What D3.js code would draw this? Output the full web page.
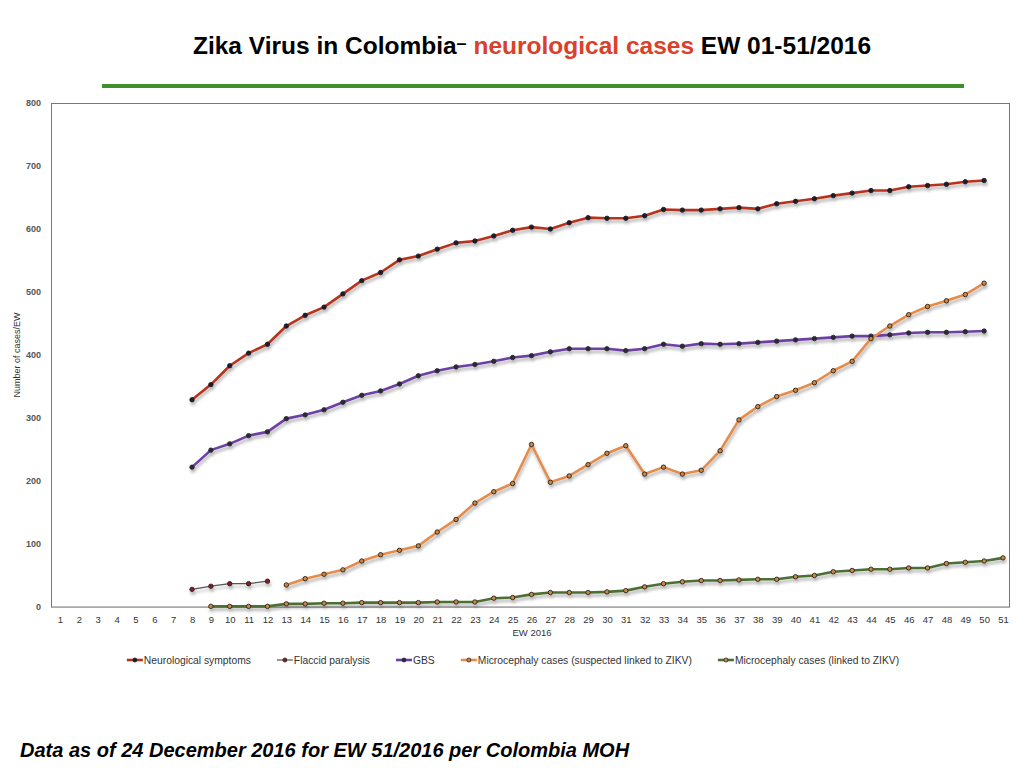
<!DOCTYPE html>
<html>
<head>
<meta charset="utf-8">
<script src="https://cdn.jsdelivr.net/npm/d3@7"></script>
<style>
  body { margin: 0; background: #fff; }
  svg { display: block; }
  text { font-family: "Liberation Sans Narrow", "Liberation Sans", Arial, sans-serif; }
</style>
</head>
<body>
<svg id="chart" width="1024" height="768"></svg>
<script>
// epidemiological weeks shown on the axis
const weeks = d3.range(1, 52);
const yTicks = [0, 100, 200, 300, 400, 500, 600, 700, 800];

// series values (first week given separately)
const neuroStart = 8;
const neuroValues = [329, 353, 383, 403, 417, 446, 463, 476, 497, 518, 531, 551, 557, 568, 578, 581,
  589, 598, 603, 600, 610, 618, 617, 617, 621, 631, 630, 630, 632, 634, 632, 640, 644, 648, 653,
  657, 661, 661, 667, 669, 671, 675, 677];

const flaccidStart = 8;
const flaccidValues = [28, 33, 37, 37, 41];

const gbsStart = 8;
const gbsValues = [222, 249, 259, 272, 278, 299, 305, 313, 325, 336, 343, 354, 367, 375, 381, 385,
  390, 396, 399, 405, 410, 410, 410, 407, 410, 417, 414, 418, 417, 418, 420, 422, 424, 426, 428,
  430, 430, 432, 435, 436, 436, 437, 438];

const suspStart = 13;
const suspValues = [35, 45, 52, 59, 73, 83, 90, 97, 119, 139, 165, 183, 196, 258, 198, 208, 226,
  244, 256, 211, 222, 211, 217, 248, 297, 318, 334, 344, 356, 375, 390, 426, 446, 464, 477, 486,
  496, 514];

const confStart = 9;
const confValues = [1, 1, 1, 1, 5, 5, 6, 6, 7, 7, 7, 7, 8, 8, 8, 14, 15, 20, 23, 23, 23, 24, 26,
  32, 37, 40, 42, 42, 43, 44, 44, 48, 50, 56, 58, 60, 60, 62, 62, 69, 71, 73, 78];

const toPoints = (start, values) => values.map((v, i) => ({ week: start + i, value: v }));

const series = [
  { name: 'Neurological symptoms', data: toPoints(neuroStart, neuroValues),
    color: '#b8321f', width: 2.6, dot: '#1c1c2a', dotStroke: '#1c1c2a' },
  { name: 'Flaccid paralysis', data: toPoints(flaccidStart, flaccidValues),
    color: '#555', width: 1.2, dot: '#7a2030', dotStroke: '#3a1a1a' },
  { name: 'GBS', data: toPoints(gbsStart, gbsValues),
    color: '#6e3fa3', width: 2.6, dot: '#2a2a33', dotStroke: '#2a2a33' },
  { name: 'Microcephaly cases (suspected linked to ZIKV)', data: toPoints(suspStart, suspValues),
    color: '#e68c4c', width: 2.6, dot: '#c98a4a', dotStroke: '#2b2015' },
  { name: 'Microcephaly cases (linked to ZIKV)', data: toPoints(confStart, confValues),
    color: '#4d6e34', width: 2.6, dot: '#c98a4a', dotStroke: '#2b2015' }
];

const svg = d3.select('#chart');

const defs = svg.append('defs');
const shadow = defs.append('filter')
  .attr('id', 'shadow')
  .attr('x', '-10%').attr('y', '-10%')
  .attr('width', '120%').attr('height', '130%');
shadow.append('feDropShadow')
  .attr('dx', 1).attr('dy', 3)
  .attr('stdDeviation', 1.6)
  .attr('flood-color', '#000')
  .attr('flood-opacity', 0.3);

// title
const title = svg.append('text')
  .attr('x', 532).attr('y', 54)
  .attr('text-anchor', 'middle')
  .style('font-size', '24.5px')
  .style('font-weight', 'bold');
title.append('tspan').text('Zika Virus in Colombia');
title.append('tspan').text('\u2013').attr('dy', -5).style('font-size', '18px');
title.append('tspan').text(' neurological cases').attr('dy', 5).attr('fill', '#d9412a');
title.append('tspan').text(' EW 01-51/2016').attr('fill', '#000');

svg.append('line')
  .attr('x1', 102).attr('x2', 964)
  .attr('y1', 86).attr('y2', 86)
  .attr('stroke', '#3f8f2d')
  .attr('stroke-width', 4);

// scales
const x = d3.scaleLinear().domain([1, 51]).range([60, 1003]);
const y = d3.scaleLinear().domain([0, 800]).range([607, 103]);

// plot frame
svg.append('rect')
  .attr('x', 51.5).attr('y', 103.5)
  .attr('width', 958).attr('height', 503.5)
  .attr('fill', 'none')
  .attr('stroke', '#777')
  .attr('stroke-width', 1);

svg.append('line')
  .attr('x1', 51).attr('x2', 1010)
  .attr('y1', y(0) + 0.5).attr('y2', y(0) + 0.5)
  .attr('stroke', '#aaa');

// y axis
const yAxis = svg.append('g')
  .attr('transform', 'translate(51,0)')
  .call(d3.axisLeft(y).tickValues(yTicks).tickSize(0).tickPadding(10));
yAxis.select('.domain').remove();
yAxis.selectAll('text')
  .style('font-size', '9px')
  .style('font-weight', 'bold')
  .attr('fill', '#555');

svg.append('text')
  .attr('transform', 'translate(20,355) rotate(-90)')
  .attr('text-anchor', 'middle')
  .style('font-size', '9px')
  .attr('fill', '#333')
  .text('Number of cases/EW');

// x axis
const xAxis = svg.append('g')
  .attr('transform', `translate(0,${y(0)})`)
  .call(d3.axisBottom(x).tickValues(weeks).tickFormat(d3.format('d')).tickSize(0).tickPadding(9));
xAxis.select('.domain').remove();
xAxis.selectAll('text')
  .style('font-size', '9.5px')
  .attr('fill', '#333');

svg.append('text')
  .attr('x', 532).attr('y', 636)
  .attr('text-anchor', 'middle')
  .style('font-size', '9.5px')
  .attr('fill', '#333')
  .text('EW 2016');

// lines
const line = d3.line()
  .x(d => x(d.week))
  .y(d => y(d.value));

const plot = svg.append('g').attr('filter', 'url(#shadow)');

series.forEach(s => {
  plot.append('path')
    .datum(s.data)
    .attr('d', line)
    .attr('fill', 'none')
    .attr('stroke', s.color)
    .attr('stroke-width', s.width)
    .attr('stroke-linejoin', 'round');
});

series.forEach(s => {
  plot.append('g')
    .selectAll('circle')
    .data(s.data)
    .enter().append('circle')
    .attr('cx', d => x(d.week))
    .attr('cy', d => y(d.value))
    .attr('r', 2.2)
    .attr('fill', s.dot)
    .attr('stroke', s.dotStroke)
    .attr('stroke-width', 0.9);
});

// legend
const legend = svg.append('g').attr('transform', 'translate(0,660)');
const items = legend.selectAll('g')
  .data(series)
  .enter().append('g');

items.append('line')
  .attr('x1', 0).attr('x2', 16)
  .attr('stroke', d => d.color)
  .attr('stroke-width', d => d.width);
items.append('circle')
  .attr('cx', 8).attr('r', 2)
  .attr('fill', d => d.dot)
  .attr('stroke', d => d.dotStroke)
  .attr('stroke-width', 0.8);
items.append('text')
  .attr('x', 17).attr('y', 3.5)
  .style('font-size', '10.3px')
  .attr('fill', '#333')
  .text(d => d.name);

const gap = 26;
let widths = [];
items.each(function () { widths.push(this.getBBox().width); });
const total = d3.sum(widths) + gap * (widths.length - 1);
let cursor = 513 - total / 2;
items.attr('transform', (d, i) => {
  const t = `translate(${cursor},0)`;
  cursor += widths[i] + gap;
  return t;
});

// footer
svg.append('text')
  .attr('x', 20).attr('y', 757)
  .style('font-size', '20px')
  .style('font-weight', 'bold')
  .style('font-style', 'italic')
  .text('Data as of 24 December 2016 for EW 51/2016 per Colombia MOH');
</script>
</body>
</html>
